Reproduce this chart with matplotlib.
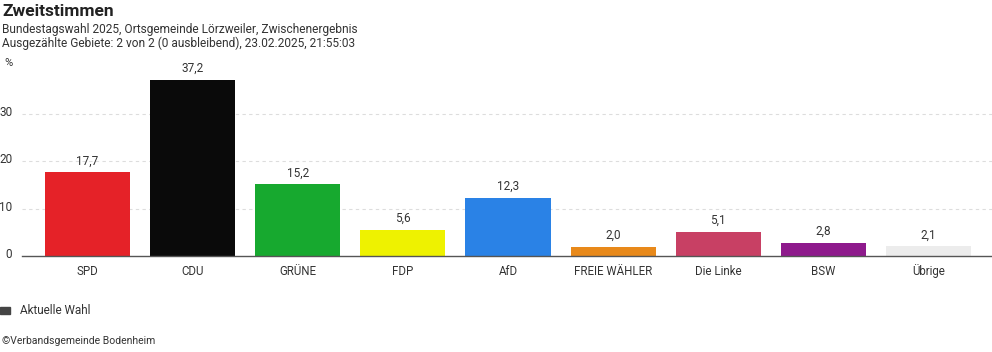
import numpy as np
import matplotlib.pyplot as plt
import matplotlib.transforms as mtransforms

plt.rcParams['font.family'] = ['Roboto', 'DejaVu Sans']

# Daten
parteien = ["SPD", "CDU", "GRÜNE", "FDP", "AfD", "FREIE WÄHLER", "Die Linke", "BSW", "Übrige"]
anteile = [17.7, 37.2, 15.2, 5.6, 12.3, 2.0, 5.1, 2.8, 2.1]
farben = ["#e52228", "#0a0a0a", "#17a92f", "#eef200", "#2a82e6", "#e8891a", "#c84064", "#8e1a8c", "#ececec"]
y_ticks = [0, 10, 20, 30]

txt = "#333333"
W, H = 992, 352

fig = plt.figure(figsize=(W / 100, H / 100), dpi=100)
ax = fig.add_axes([22 / W, (H - 256) / H, (W - 22) / W, (256 - 62) / H])

x = np.arange(len(parteien))
ax.bar(x, anteile, width=0.81, color=farben, zorder=3)
for xi, v in zip(x, anteile):
    ax.text(xi, v + 1.0, f"{v:.1f}".replace(".", ","), ha="center", va="bottom",
            fontsize=8.5, color=txt)

ax.set_xlim(-0.624, 8.605)
ax.set_ylim(0, 41)
ax.set_xticks(x)
ax.set_xticklabels(parteien, fontsize=8.3, color=txt)
for lbl in ax.get_xticklabels():
    lbl.set_verticalalignment("baseline")
ax.tick_params(axis="x", length=0, pad=14)
ax.set_yticks(y_ticks)
ax.set_yticklabels([str(t) for t in y_ticks], fontsize=8.5, color=txt)
ax.tick_params(axis="y", length=0, pad=7)
up = mtransforms.ScaledTranslation(0, 3 / 100, fig.dpi_scale_trans)
for lbl in ax.get_yticklabels():
    lbl.set_transform(lbl.get_transform() + up)
for t in y_ticks[1:]:
    ax.axhline(t, color="#dddddd", lw=0.8, ls=(0, (3, 3)), zorder=1)
for s in ["top", "right", "left"]:
    ax.spines[s].set_visible(False)
ax.spines["bottom"].set_color("#555555")
ax.spines["bottom"].set_linewidth(1.0)
ax.spines["bottom"].set_zorder(4)

fig.text(2 / W, 1 - 11 / H, "Zweitstimmen", fontsize=12.5, fontweight="bold", color="#222222", va="center")
fig.text(2 / W, 1 - 29 / H, "Bundestagswahl 2025, Ortsgemeinde Lörzweiler, Zwischenergebnis",
         fontsize=8.6, color=txt, va="center")
fig.text(2 / W, 1 - 43 / H, "Ausgezählte Gebiete: 2 von 2 (0 ausbleibend), 23.02.2025, 21:55:03",
         fontsize=8.6, color=txt, va="center")
fig.text(4 / W, 1 - 63 / H, "%", fontsize=8, color=txt, va="center")

fig.patches.append(plt.Rectangle((0, 1 - 314 / H), 10 / W, 7 / H, transform=fig.transFigure,
                                 color="#444444"))
fig.text(20 / W, 1 - 310 / H, "Aktuelle Wahl", fontsize=8.5, color=txt, va="center")
fig.text(2 / W, 1 - 341 / H, "©Verbandsgemeinde Bodenheim", fontsize=7.5, color=txt, va="center")

fig.savefig("out.png", dpi=100)
